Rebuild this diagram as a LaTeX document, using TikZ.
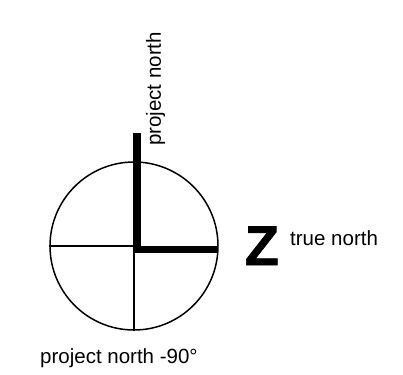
\documentclass[tikz,border=0pt]{standalone}
\usepackage{fontspec}
\setmainfont{Liberation Sans}
\newfontfamily\zfont[FakeBold=1.2]{Liberation Sans Bold}
\begin{document}
\begin{tikzpicture}[x=1pt,y=-1pt,
  thinline/.style={line width=1.5pt},
  thickline/.style={line width=7.5pt},
  lbl/.style={inner sep=0pt, font=\fontsize{20.5}{24}\selectfont}]
\useasboundingbox (0,0) rectangle (403,374);
\node[circle, draw, thinline, minimum size=168pt, inner sep=0pt] (compass) at (134,246) {};
\draw[thinline] (compass.west) -- (compass.center) -- (compass.south);
\coordinate (pnTop) at (137,133);
\coordinate (corner) at (137,249.5);
\coordinate (tnEnd) at (218,249.5);
\draw[thickline] (pnTop) -- (corner) -- (tnEnd);
\node[lbl, rotate=90] (pn) at (155.5,89) {project north};
\node[lbl, anchor=base west] (tn) at (290,245) {true north};
\node[lbl, anchor=base west] (pn90) at (40,363) {project north -90°};
\node[inner sep=0pt, anchor=base west, font=\fontsize{56}{60}\selectfont\zfont] (z) at (244.5,265) {Z};
\end{tikzpicture}
\end{document}
